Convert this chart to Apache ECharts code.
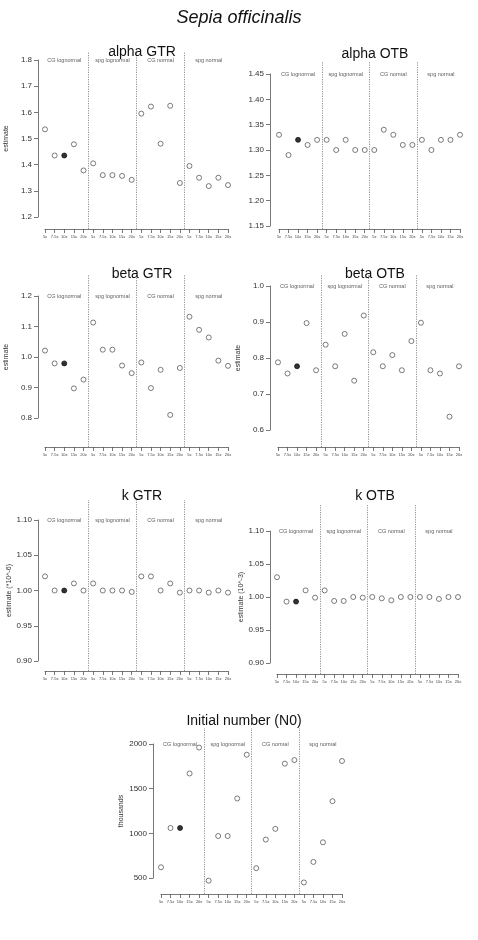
<!DOCTYPE html>
<html><head><meta charset="utf-8">
<script src="https://cdn.jsdelivr.net/npm/echarts@6/dist/echarts.min.js"></script>
<style>html,body{margin:0;padding:0;background:#fff}#c{width:478px;height:940px}</style>
</head><body><div id="c"></div>
<script>
const xTickLabels = ["5x","7.5x","10x","15x","20x","5x","7.5x","10x","15x","20x","5x","7.5x","10x","15x","20x","5x","7.5x","10x","15x","20x"];
const groupNames = ["CG lognormal","spg lognormal","CG normal","spg normal"];
const alphaGTR = [1.535,1.435,1.435,1.478,1.378, 1.405,1.36,1.36,1.357,1.342, 1.595,1.622,1.48,1.625,1.33, 1.395,1.35,1.318,1.35,1.322];
const alphaOTB = [1.33,1.29,1.32,1.31,1.32, 1.32,1.30,1.32,1.30,1.30, 1.30,1.34,1.33,1.31,1.31, 1.32,1.30,1.32,1.32,1.33];
const betaGTR = [1.021,0.979,0.979,0.897,0.926, 1.113,1.024,1.024,0.972,0.947, 0.982,0.898,0.958,0.810,0.964, 1.132,1.089,1.064,0.988,0.971];
const betaOTB = [0.788,0.757,0.777,0.897,0.766, 0.837,0.777,0.867,0.737,0.918, 0.816,0.777,0.808,0.766,0.847, 0.898,0.766,0.757,0.637,0.777];
const kGTR = [1.02,1.00,1.00,1.01,1.00, 1.01,1.00,1.00,1.00,0.998, 1.02,1.02,1.00,1.01,0.997, 1.00,1.00,0.997,1.00,0.997];
const kOTB = [1.03,0.993,0.993,1.01,0.999, 1.01,0.994,0.994,1.00,0.999, 1.00,0.998,0.995,1.00,1.00, 1.00,1.00,0.997,1.00,1.00];
const N0 = [620,1060,1060,1670,1960, 470,970,970,1390,1880, 610,930,1050,1780,1820, 450,680,900,1360,1810];
const highlightIndex = 2;

const panels = [
 {title:"alpha GTR", data:alphaGTR, xL:45,xR:228,axX:38,min:1.2,max:1.8,int:0.1,dec:1,yTop:60,yBot:217,xAx:229,divTop:52,tY:40,tX:137,yName:"estimate"},
 {title:"alpha OTB", data:alphaOTB, xL:279,xR:460,axX:270,min:1.15,max:1.45,int:0.05,dec:2,yTop:74,yBot:226,xAx:229,divTop:62,tY:42,tX:370,yName:""},
 {title:"beta GTR", data:betaGTR, xL:45,xR:228,axX:38,min:0.8,max:1.2,int:0.1,dec:1,yTop:296,yBot:418,xAx:447,divTop:275,tY:262,tX:137,yName:"estimate"},
 {title:"beta OTB", data:betaOTB, xL:278,xR:459,axX:270,min:0.6,max:1.0,int:0.1,dec:1,yTop:286,yBot:430,xAx:447,divTop:275,tY:262,tX:370,yName:"estimate"},
 {title:"k GTR", data:kGTR, xL:45,xR:228,axX:38,min:0.9,max:1.1,int:0.05,dec:2,yTop:520,yBot:661,xAx:671,divTop:500,tY:484,tX:137,yName:"estimate (*10^-6)"},
 {title:"k OTB", data:kOTB, xL:277,xR:458,axX:270,min:0.9,max:1.1,int:0.05,dec:2,yTop:531,yBot:663,xAx:674,divTop:505,tY:484,tX:370,yName:"estimate (10^-3)"},
 {title:"Initial number (N0)", data:N0, xL:161,xR:342,axX:153,min:500,max:2000,int:500,dec:0,yTop:744,yBot:878,xAx:894,divTop:728,tY:709,tX:239,yName:"thousands"}
];

const F = "Liberation Sans, Arial, sans-serif";
const grid=[], xAxis=[], yAxis=[], series=[], title=[{text:"Sepia officinalis",left:"center",top:4,textStyle:{fontFamily:F,fontStyle:"italic",fontWeight:"normal",fontSize:18,color:"#111"}}];
panels.forEach((p,i)=>{
  const gA=grid.length, gB=gA+1;
  grid.push({left:p.xL,width:p.xR-p.xL,top:p.yTop,height:p.yBot-p.yTop});
  grid.push({left:p.xL,width:p.xR-p.xL,top:p.divTop,height:p.xAx-p.divTop});
  title.push({text:p.title,left:p.tX,top:p.tY,textAlign:"center",textStyle:{fontFamily:F,fontWeight:"normal",fontSize:14,color:"#111"}});
  xAxis.push({gridIndex:gA,type:"value",min:1,max:20,show:false});
  xAxis.push({gridIndex:gB,type:"value",min:1,max:20,interval:1,position:"bottom",
    axisLine:{show:true,lineStyle:{color:"#555",width:0.8}},axisTick:{show:true,length:4,lineStyle:{color:"#555",width:0.8}},
    splitLine:{show:false},axisLabel:{fontSize:4,color:"#444",margin:6,fontFamily:F,formatter:v=>xTickLabels[Math.round(v)-1]||""}});
  yAxis.push({gridIndex:gA,type:"value",min:p.min,max:p.max,interval:p.int,offset:p.xL-p.axX,
    name:p.yName,nameLocation:"middle",nameGap:(p.axX-p.xL<0? (p.yName.length>10?24:28):28),nameTextStyle:{fontSize:7,color:"#333",fontFamily:F},
    axisLine:{show:true,lineStyle:{color:"#555",width:0.8}},axisTick:{show:true,length:4,lineStyle:{color:"#555",width:0.8}},
    splitLine:{show:false},axisLabel:{fontSize:8,color:"#333",fontFamily:F,margin:6,formatter:v=>v.toFixed(p.dec)}});
  yAxis.push({gridIndex:gB,type:"value",min:0,max:1,show:false});
  series.push({type:"scatter",xAxisIndex:gA,yAxisIndex:gA,clip:false,symbol:"circle",symbolSize:5,
    data:p.data.map((v,j)=>({value:[j+1,v],itemStyle:j===highlightIndex?{color:"#000",borderColor:"#000",borderWidth:0.8}:{color:"#fff",borderColor:"#333",borderWidth:0.8}}))});
  series.push({type:"scatter",xAxisIndex:gA,yAxisIndex:gA,clip:false,symbolSize:0,silent:true,
    data:groupNames.map((n,k)=>({name:n,value:[5*k+3,p.max]})),
    label:{show:true,position:"inside",formatter:"{b}",fontSize:5.5,color:"#333",fontFamily:F}});
  series.push({type:"line",xAxisIndex:gB,yAxisIndex:gB,data:[],
    markLine:{silent:true,symbol:"none",label:{show:false},lineStyle:{type:[1.2,1.2],color:"#777",width:0.8},
      data:[{xAxis:5.5},{xAxis:10.5},{xAxis:15.5}]}});
});
const chart=echarts.init(document.getElementById("c"),null,{renderer:"canvas"});
chart.setOption({animation:false,backgroundColor:"#fff",title,grid,xAxis,yAxis,series});
</script></body></html>
